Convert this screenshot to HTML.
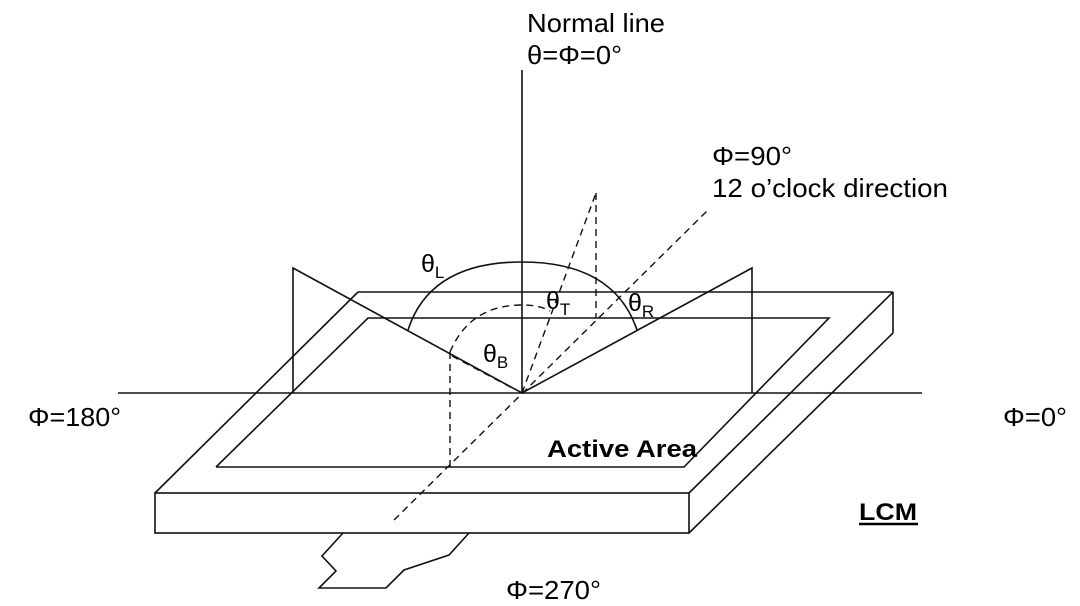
<!DOCTYPE html>
<html><head><meta charset="utf-8"><style>
html,body{margin:0;padding:0;background:#fff;}
svg{display:block;}
text{font-family:"Liberation Sans",Arial,sans-serif;fill:#000;}
</style></head><body>
<svg width="1080" height="606" viewBox="0 0 1080 606" xmlns="http://www.w3.org/2000/svg">
<g fill="none" stroke="#111" stroke-width="1.6">
<line x1="522" y1="70" x2="522" y2="393"/>
<line x1="118" y1="393" x2="922" y2="393"/>
<line x1="358" y1="292" x2="893" y2="292"/>
<line x1="155" y1="493" x2="358" y2="292"/>
<line x1="689" y1="493" x2="893" y2="292"/>
<line x1="893" y1="292" x2="893" y2="333"/>
<line x1="689" y1="533" x2="893" y2="333"/>
<rect x="155" y="493" width="534" height="40"/>
<polyline points="216,467 368,318 829,318 684,467 216,467"/>
<polyline points="293,393 293,268 522,393 752,268 752,393"/>
<path d="M408,330 Q430,262 522,262 Q614,262 637,330"/>
<polyline points="343,533 322,556 336,571 319,588 386,588 404,570 449,555 469,533"/>
</g>
<g fill="none" stroke="#111" stroke-width="1.4" stroke-dasharray="7,5">
<line x1="394" y1="520" x2="708" y2="210"/>
<line x1="522" y1="393" x2="596" y2="193"/>
<line x1="596" y1="193" x2="596" y2="318"/>
<line x1="450" y1="352" x2="450" y2="467"/>
<path d="M450,352 Q470,305 522,305 Q540,305 550,311"/>
<line x1="452" y1="356" x2="516" y2="390"/>
</g>
<g font-size="26">
<text x="527" y="32" textLength="138" lengthAdjust="spacingAndGlyphs">Normal line</text>
<text x="527" y="64" textLength="95" lengthAdjust="spacingAndGlyphs">θ=Φ=0°</text>
<text x="712" y="165" textLength="80" lengthAdjust="spacingAndGlyphs">Φ=90°</text>
<text x="712" y="197" textLength="236" lengthAdjust="spacingAndGlyphs">12 o’clock direction</text>
<text x="28" y="426" textLength="93" lengthAdjust="spacingAndGlyphs">Φ=180°</text>
<text x="1003" y="426" textLength="64" lengthAdjust="spacingAndGlyphs">Φ=0°</text>
<text x="506" y="599" textLength="95" lengthAdjust="spacingAndGlyphs">Φ=270°</text>
<text x="547" y="457" font-weight="bold" font-size="24" textLength="150" lengthAdjust="spacingAndGlyphs">Active Area</text>
<text x="859" y="520" font-weight="bold" font-size="24" textLength="58" lengthAdjust="spacingAndGlyphs">LCM</text>
</g>
<line x1="859" y1="524" x2="918" y2="524" stroke="#000" stroke-width="2.5"/>
<g font-size="25">
<text x="421" y="272">θ<tspan font-size="17" dy="6">L</tspan></text>
<text x="546" y="309">θ<tspan font-size="17" dy="6">T</tspan></text>
<text x="628" y="311">θ<tspan font-size="17" dy="6">R</tspan></text>
<text x="483" y="362">θ<tspan font-size="17" dy="6">B</tspan></text>
</g>
</svg>
</body></html>
